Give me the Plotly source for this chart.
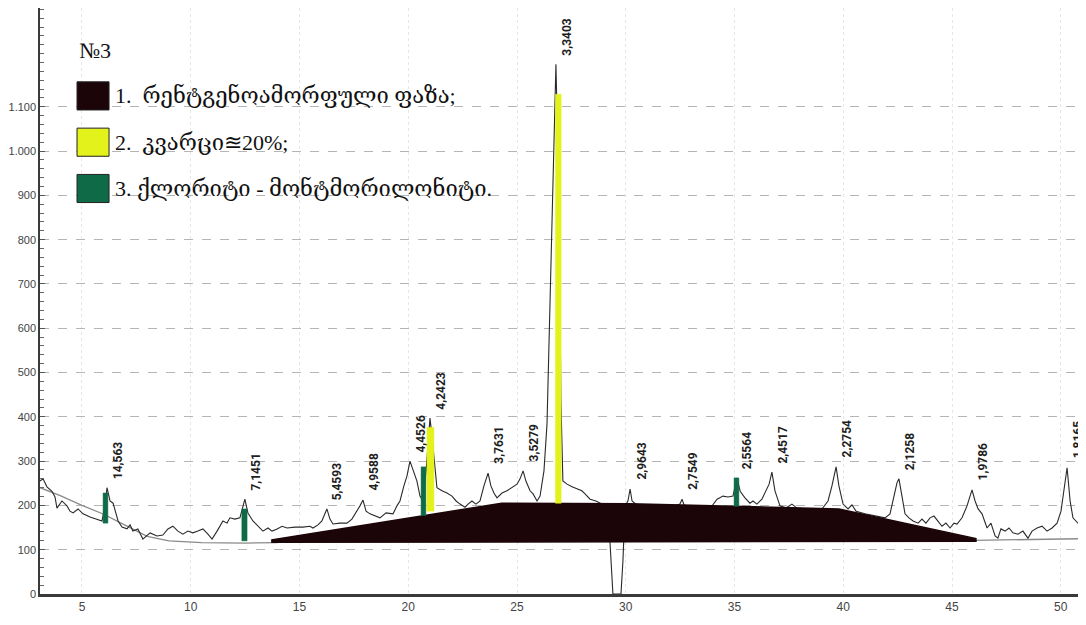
import plotly.graph_objects as go

# ---------------- data ----------------
# diffractogram (2theta, intensity)
two_theta = [3.07, 3.21, 3.39, 3.62, 3.76, 3.85, 4.08, 4.31, 4.45, 4.59, 4.82, 5.05, 5.37, 5.69, 5.92, 6.06, 6.15, 6.29, 6.43, 6.66,
             6.84, 7.07, 7.21, 7.34, 7.57, 7.80, 8.13, 8.45, 8.72, 8.95, 9.18, 9.41, 9.64, 9.87, 10.10, 10.33, 10.56, 10.79, 10.98, 11.21,
             11.48, 11.67, 11.80, 12.03, 12.26, 12.49, 12.63, 12.86, 13.09, 13.32, 13.55, 13.74, 13.97, 14.20, 14.43, 14.79, 15.16, 15.48, 15.62, 15.85,
             16.03, 16.26, 16.40, 16.54, 16.86, 17.18, 17.41, 17.60, 17.78, 17.92, 18.06, 18.24, 18.47, 18.70, 18.98, 19.30, 19.48, 19.62, 19.80, 19.94,
             20.08, 20.22, 20.40, 20.54, 20.68, 20.82, 20.91, 21.00, 21.09, 21.23, 21.32, 21.55, 21.78, 22.01, 22.20, 22.38, 22.61, 22.75, 22.93, 23.11,
             23.30, 23.48, 23.67, 23.80, 23.94, 24.08, 24.31, 24.54, 24.77, 25.00, 25.14, 25.28, 25.41, 25.60, 25.74, 25.92, 26.06, 26.24, 26.38, 26.52,
             26.66, 26.79, 26.93, 27.02, 27.11, 27.30, 27.53, 27.76, 27.98, 28.13, 28.36, 28.63, 28.90, 29.18, 29.32, 29.41, 29.78, 29.87, 29.97, 30.10,
             30.20, 30.29, 30.56, 31.10, 31.80, 32.26, 32.49, 32.59, 32.68, 33.18, 33.64, 33.97, 34.20, 34.47, 34.70, 34.93, 35.11, 35.26, 35.48, 35.71,
             35.85, 36.03, 36.26, 36.45, 36.59, 36.72, 36.86, 37.09, 37.37, 37.64, 37.87, 38.47, 39.02, 39.30, 39.48, 39.67, 39.80, 39.99, 40.22, 40.40,
             40.59, 41.00, 41.46, 41.92, 42.15, 42.33, 42.47, 42.56, 42.70, 42.84, 43.02, 43.21, 43.44, 43.62, 43.80, 43.99, 44.17, 44.36, 44.54, 44.72,
             44.91, 45.09, 45.23, 45.46, 45.69, 45.83, 45.92, 46.06, 46.20, 46.38, 46.61, 46.79, 46.98, 47.11, 47.25, 47.44, 47.62, 47.80, 48.03, 48.26,
             48.49, 48.68, 48.91, 49.14, 49.37, 49.60, 49.83, 50.01, 50.15, 50.29, 50.43, 50.56, 50.79, 50.98, 51.16]
intensity = [255, 260, 242, 232, 219, 194, 210, 199, 187, 183, 192, 181, 174, 169, 165, 199, 240, 210, 205, 165,
             151, 147, 156, 142, 147, 124, 138, 131, 133, 147, 153, 142, 135, 142, 138, 142, 147, 135, 124, 142,
             165, 160, 172, 169, 172, 214, 183, 165, 153, 142, 149, 142, 147, 153, 149, 151, 151, 153, 149, 156,
             165, 192, 169, 158, 160, 160, 169, 183, 199, 212, 187, 181, 176, 172, 183, 181, 199, 210, 244, 266,
             300, 278, 255, 221, 210, 278, 345, 397, 357, 278, 240, 233, 228, 221, 210, 203, 196, 203, 210, 203,
             210, 244, 273, 244, 228, 217, 228, 233, 240, 248, 260, 278, 255, 233, 226, 210, 221, 278, 384, 661,
             1000, 1196, 887, 436, 255, 248, 242, 237, 233, 226, 214, 210, 203, 199, 74, 0, 0, 74, 199, 210,
             237, 210, 199, 196, 196, 199, 203, 214, 201, 196, 196, 199, 214, 221, 219, 221, 262, 232, 217, 205,
             210, 203, 214, 233, 248, 275, 233, 199, 194, 203, 194, 192, 192, 210, 244, 287, 244, 203, 192, 201,
             187, 181, 176, 172, 181, 221, 251, 260, 221, 181, 172, 165, 160, 169, 160, 172, 176, 165, 153, 160,
             149, 160, 158, 172, 199, 221, 235, 210, 192, 181, 149, 160, 131, 126, 147, 142, 149, 138, 135, 142,
             126, 142, 149, 153, 142, 149, 160, 187, 233, 285, 210, 172, 160, 153, 142]

# background line
base_theta = [3.07, 4.0, 5.0, 6.0, 7.0, 8.0, 9.0, 10.5, 12.5, 14.0, None, 46.0, 48.0, 51.16]
base_int = [240, 222, 200, 180, 155, 130, 120, 116, 115, 116, None, 121, 123, 125]

# X-ray amorphous phase (outline of the dark region)
amorph_theta = [13.7, 24.3, 30.2, 35.1, 39.8, 46.1, 46.1, 13.7]
amorph_int = [122, 205, 204, 198, 192, 125, 119, 117]

# quartz marks: centre, half-width, bottom, top
quartz_theta = [21.02, 26.90]
quartz_halfw = [0.16, 0.13]
quartz_low = [187, 205]
quartz_high = [376, 1128]

# chlorite-montmorillonite marks
chl_theta = [6.08, 12.47, 20.70, 35.09]
chl_halfw = [0.11, 0.12, 0.11, 0.11]
chl_low = [160, 120, 177, 198]
chl_high = [228, 192, 287, 262]

# d-spacing labels: text, peak 2theta, peak intensity
lbl_text = ["14,563", "7,1451", "5,4593", "4,9588", "4,4526", "4,2423", "3,7631", "3,5279", "3,3403",
            "2,9643", "2,7549", "2,5564", "2,4517", "2,2754", "2,1258", "1,9786", "1,8165"]
lbl_theta = [6.15, 12.49, 16.26, 17.92, 20.08, 21.00, 23.67, 25.28, 26.79,
             30.20, 32.59, 35.11, 36.72, 39.67, 42.56, 45.92, 50.29]
lbl_int = [240, 214, 192, 212, 300, 397, 273, 278, 1196,
           237, 214, 262, 275, 287, 260, 235, 285]

y_ticks = [0, 100, 200, 300, 400, 500, 600, 700, 800, 900, 1000, 1100]
y_tick_text = ["0", "100", "200", "300", "400", "500", "600", "700", "800", "900", "1.000", "1.100"]
x_ticks = [5, 10, 15, 20, 25, 30, 35, 40, 45, 50]

legend_title = "№3"
legend_items = ["1.  რენტგენოამორფული ფაზა;", "2.  კვარცი≊20%;", "3. ქლორიტი - მონტმორილონიტი."]
legend_colors = ["#1c0509", "#e4f21c", "#0f6b47"]

# ---------------- figure ----------------
fig = go.Figure()

fig.add_trace(go.Scatter(x=base_theta, y=base_int, mode="lines",
                         line=dict(color="#8a8a8a", width=1.3), hoverinfo="skip"))
fig.add_trace(go.Scatter(x=two_theta, y=intensity, mode="lines",
                         line=dict(color="#2a2a2a", width=1.1), hoverinfo="skip"))
fig.add_trace(go.Scatter(x=amorph_theta, y=amorph_int, mode="lines", fill="toself",
                         fillcolor=legend_colors[0], line=dict(color=legend_colors[0], width=1.5),
                         hoverinfo="skip"))


def add_marks(centres, halfw, lows, highs, color):
    for c, h, lo, hi in zip(centres, halfw, lows, highs):
        fig.add_trace(go.Scatter(x=[c - h, c + h, c + h, c - h, c - h], y=[lo, lo, hi, hi, lo],
                                 mode="lines", fill="toself", fillcolor=color,
                                 line=dict(color=color, width=0.5), hoverinfo="skip"))


add_marks(chl_theta, chl_halfw, chl_low, chl_high, legend_colors[2])
add_marks(quartz_theta, quartz_halfw, quartz_low, quartz_high, legend_colors[1])

for t, x, y in zip(lbl_text, lbl_theta, lbl_int):
    fig.add_annotation(x=x, y=y, text=t, showarrow=False, textangle=-90,
                       xanchor="center", yanchor="bottom", xshift=11, yshift=7,
                       font=dict(family="Liberation Sans Narrow, Arial Narrow, Roboto, sans-serif",
                                 size=12, color="#1e1e1e", weight="bold"))

# legend (drawn manually like in the scan)
fig.add_annotation(xref="paper", yref="paper", x=0.0358, y=0.928, xanchor="left", yanchor="middle",
                   text=legend_title, showarrow=False,
                   font=dict(family="Liberation Serif, DejaVu Serif", size=22, color="#111111"))
leg_y = [0.850, 0.771, 0.692]
for txt, col, yy in zip(legend_items, legend_colors, leg_y):
    fig.add_shape(type="rect", xref="paper", yref="paper", x0=0.0354, x1=0.066,
                  y0=yy - 0.024, y1=yy + 0.024, fillcolor=col, line=dict(color="#222", width=1),
                  layer="above")
    fig.add_annotation(xref="paper", yref="paper", x=0.070, y=yy, xanchor="left", yanchor="middle",
                       text=txt, showarrow=False,
                       font=dict(family="Liberation Serif, DejaVu Serif", size=22, color="#111111"))

fig.update_layout(
    width=1086, height=625,
    margin=dict(l=32, r=8, t=0, b=39),
    paper_bgcolor="white", plot_bgcolor="white",
    showlegend=False,
    xaxis=dict(range=[3.07, 51.16], tickvals=x_ticks, showgrid=True, gridcolor="#e6e6e6",
               griddash="dot", gridwidth=1, zeroline=False, showline=True, linecolor="#3a3a3a",
               linewidth=2.5, ticks="", automargin=False,
               tickfont=dict(family="Liberation Sans, Arial", size=12, color="#444")),
    yaxis=dict(range=[0, 1323], tickvals=y_ticks, ticktext=y_tick_text, showgrid=True,
               gridcolor="#b5b5b5", griddash="dash", gridwidth=1, zeroline=False, showline=True,
               linecolor="#3a3a3a", linewidth=1.5, ticks="inside", ticklen=5, tickcolor="#555",
               automargin=False, ticklabelstandoff=0,
               minor=dict(dtick=20, ticks="inside", ticklen=4, tickcolor="#666", showgrid=False),
               tickfont=dict(family="Liberation Sans, Arial", size=11, color="#444")),
)

fig.write_html("out.html")
